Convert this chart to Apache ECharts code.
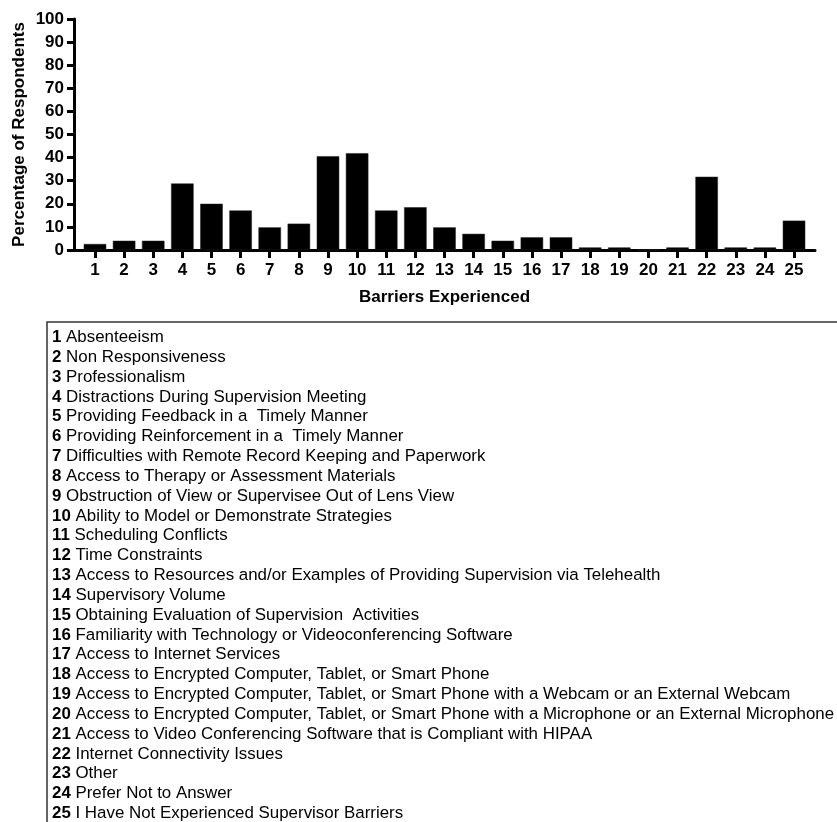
<!DOCTYPE html>
<html>
<head>
<meta charset="utf-8">
<script src="https://cdn.jsdelivr.net/npm/echarts@6/dist/echarts.min.js"></script>
<style>
  html, body { margin: 0; padding: 0; background: #fff; }
  #chart { width: 837px; height: 822px; }
</style>
</head>
<body>
<div id="chart"></div>
<script>
// Barrier numbers shown along the x axis
const barrierIds = [1, 2, 3, 4, 5, 6, 7, 8, 9, 10, 11, 12, 13, 14, 15, 16, 17, 18, 19, 20, 21, 22, 23, 24, 25];

// Percentage of respondents reporting each barrier
const percentRespondents = [2.6, 4.0, 4.0, 28.8, 20.0, 17.1, 9.8, 11.4, 40.6, 41.9, 17.1, 18.5, 9.8, 7.0, 4.0, 5.5, 5.5, 1.1, 1.1, 0, 1.1, 31.7, 1.1, 1.1, 12.7];

// Y axis ticks
const yTicks = [0, 10, 20, 30, 40, 50, 60, 70, 80, 90, 100];

// Key describing each barrier
const barrierNames = [
  'Absenteeism',
  'Non Responsiveness',
  'Professionalism',
  'Distractions During Supervision Meeting',
  'Providing Feedback in a  Timely Manner',
  'Providing Reinforcement in a  Timely Manner',
  'Difficulties with Remote Record Keeping and Paperwork',
  'Access to Therapy or Assessment Materials',
  'Obstruction of View or Supervisee Out of Lens View',
  'Ability to Model or Demonstrate Strategies',
  'Scheduling Conflicts',
  'Time Constraints',
  'Access to Resources and/or Examples of Providing Supervision via Telehealth',
  'Supervisory Volume',
  'Obtaining Evaluation of Supervision  Activities',
  'Familiarity with Technology or Videoconferencing Software',
  'Access to Internet Services',
  'Access to Encrypted Computer, Tablet, or Smart Phone',
  'Access to Encrypted Computer, Tablet, or Smart Phone with a Webcam or an External Webcam',
  'Access to Encrypted Computer, Tablet, or Smart Phone with a Microphone or an External Microphone',
  'Access to Video Conferencing Software that is Compliant with HIPAA',
  'Internet Connectivity Issues',
  'Other',
  'Prefer Not to Answer',
  'I Have Not Experienced Supervisor Barriers'
];

const FONT = '"Liberation Sans", Arial, Helvetica, sans-serif';
const AXIS_FONT = 17;
const KEY_FONT = 16.9;

const chart = echarts.init(document.getElementById('chart'), null, { renderer: 'canvas' });

// Key box and its lines
const keyTop = 322;
const keyLeft = 47;
const keyFirstLine = 337.5;
const keyLineStep = 19.83;
const keyElements = [{
  type: 'rect',
  shape: { x: keyLeft, y: keyTop, width: 820, height: 540 },
  style: { fill: 'none', stroke: '#333', lineWidth: 1.5 },
  silent: true
}];
barrierNames.forEach((name, i) => {
  keyElements.push({
    type: 'text',
    x: 52,
    y: keyFirstLine + i * keyLineStep,
    style: {
      text: '{n|' + barrierIds[i] + '} ' + name,
      verticalAlign: 'middle',
      align: 'left',
      fontFamily: FONT,
      fontSize: KEY_FONT,
      fill: '#000',
      rich: {
        n: { fontFamily: FONT, fontSize: KEY_FONT, fontWeight: 'bold', fill: '#000' }
      }
    },
    silent: true
  });
});

const option = {
  animation: false,
  backgroundColor: '#fff',
  grid: { left: 74, right: 22, top: 19, bottom: 572, containLabel: false },
  xAxis: {
    type: 'value',
    min: 0.28,
    max: 25.72,
    name: 'Barriers Experienced',
    nameLocation: 'middle',
    nameGap: 39,
    nameMoveOverlap: false,
    nameTextStyle: { fontFamily: FONT, fontSize: AXIS_FONT, fontWeight: 'bold', color: '#000' },
    axisLine: { show: true, onZero: false, lineStyle: { color: '#000', width: 3 } },
    axisTick: { show: true, customValues: barrierIds, length: 8, lineStyle: { color: '#000', width: 3 } },
    axisLabel: {
      customValues: barrierIds,
      margin: 12,
      fontFamily: FONT, fontSize: AXIS_FONT, fontWeight: 'bold', color: '#000'
    },
    splitLine: { show: false }
  },
  yAxis: {
    type: 'value',
    min: 0,
    max: 100,
    interval: 10,
    name: 'Percentage of Respondents',
    nameLocation: 'middle',
    nameGap: 46,
    nameMoveOverlap: false,
    nameRotate: 90,
    nameTextStyle: { fontFamily: FONT, fontSize: AXIS_FONT, fontWeight: 'bold', color: '#000' },
    axisLine: { show: true, lineStyle: { color: '#000', width: 3 } },
    axisTick: { show: true, length: 7, lineStyle: { color: '#000', width: 3 } },
    axisLabel: {
      customValues: yTicks,
      margin: 10,
      fontFamily: FONT, fontSize: AXIS_FONT, fontWeight: 'bold', color: '#000'
    },
    splitLine: { show: false }
  },
  series: [{
    type: 'bar',
    data: barrierIds.map((id, i) => [id, percentRespondents[i]]),
    barWidth: 22.5,
    itemStyle: { color: '#000', borderColor: '#222', borderWidth: 0.5 },
    z: 1
  }],
  graphic: { elements: keyElements }
};

chart.setOption(option);
</script>
</body>
</html>
